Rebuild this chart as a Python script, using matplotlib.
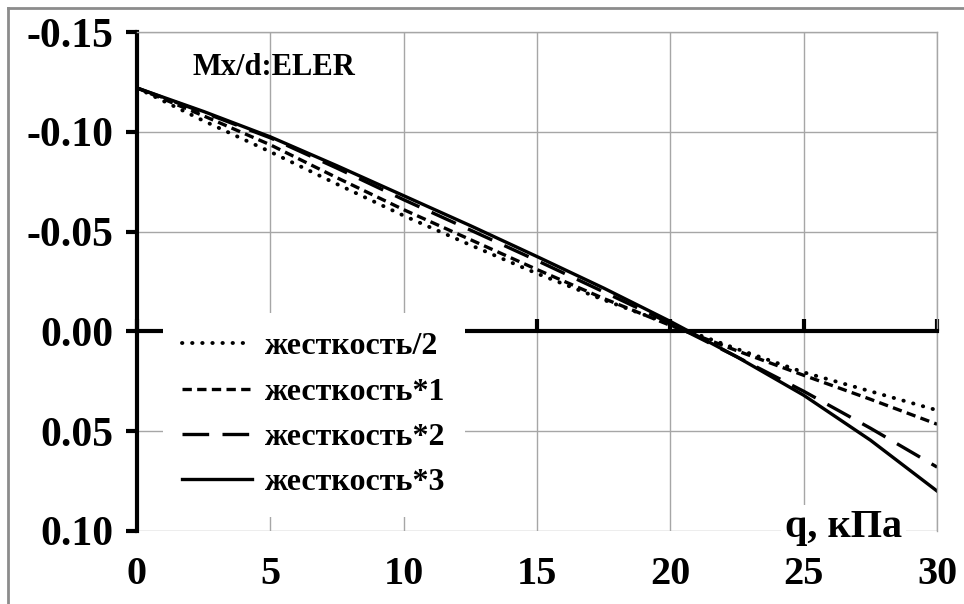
import numpy as np
import matplotlib
matplotlib.use("Agg")
import matplotlib.pyplot as plt
from matplotlib.lines import Line2D

# =============================================================================
# data
# =============================================================================
q = [0, 2.5, 5, 7.5, 10, 12.5, 15, 17.5, 20, 22.5, 25, 27.5, 30]
m_half = [-0.122, -0.1055, -0.090, -0.0738, -0.058, -0.0433, -0.029, -0.0158,
          -0.0035, 0.0088, 0.0205, 0.030, 0.0395]
m_x1 = [-0.122, -0.108, -0.0935, -0.077, -0.061, -0.046, -0.031, -0.0165,
        -0.003, 0.0097, 0.022, 0.034, 0.0465]
m_x2 = [-0.122, -0.1097, -0.097, -0.0818, -0.066, -0.0508, -0.0355, -0.0198,
        -0.004, 0.0128, 0.030, 0.0485, 0.068]
m_x3 = [-0.122, -0.1102, -0.0975, -0.083, -0.068, -0.053, -0.0375, -0.0217,
        -0.005, 0.0128, 0.032, 0.0545, 0.080]
labels = ["жесткость/2", "жесткость*1", "жесткость*2", "жесткость*3"]
xticks = [0, 5, 10, 15, 20, 25, 30]
yticks = [-0.15, -0.10, -0.05, 0.00, 0.05, 0.10]

plt.rcParams['font.family'] = ['Liberation Serif', 'DejaVu Serif']
plt.rcParams['font.weight'] = 'bold'

fig = plt.figure(figsize=(9.64, 6.04), dpi=100)
ax = fig.add_axes([0.1421, 0.1209, 0.830, 0.826])

# border of the picture (top and left only)
fig.add_artist(Line2D([0.008, 1.0], [0.987, 0.987], transform=fig.transFigure,
                      color='#8c8c8c', lw=2))
fig.add_artist(Line2D([0.008, 0.008], [0.0, 0.987], transform=fig.transFigure,
                      color='#8c8c8c', lw=2))

lw = 2.4
ax.plot(q, m_half, color='k', lw=2.8, linestyle=(0, (0.1, 2.5)),
        dash_capstyle='round', label=labels[0])
ax.plot(q, m_x1, color='k', lw=lw, linestyle=(0, (2.8, 1.6)), label=labels[1])
ax.plot(q, m_x2, color='k', lw=lw, linestyle=(0, (8, 4)), label=labels[2])
ax.plot(q, m_x3, color='k', lw=lw, linestyle='-', label=labels[3])

ax.set_xlim(0, 30)
ax.set_ylim(0.10, -0.15)
ax.set_xticks(xticks)
ax.set_yticks(yticks)
ax.set_yticklabels(['%.2f' % v for v in yticks])
ax.grid(True, color='#a6a6a6', lw=1.0)

for s in ['top', 'right']:
    ax.spines[s].set_color('#a6a6a6')
    ax.spines[s].set_linewidth(1.0)
ax.spines['left'].set_linewidth(3)
ax.spines['bottom'].set_linewidth(3)
ax.spines['bottom'].set_position(('data', 0))
ax.spines['bottom'].set_zorder(3)

ax.tick_params(axis='x', direction='in', length=9, width=3, labelbottom=False)
ax.tick_params(axis='y', direction='out', length=8, width=3, pad=9,
               labelsize=30)

sec = ax.secondary_xaxis('bottom')
sec.set_xticks(xticks)
sec.tick_params(length=0, pad=18, labelsize=29)
sec.spines['bottom'].set_visible(False)

ax.text(0.07, 0.928, 'Mx/d:ELER', transform=ax.transAxes, fontsize=22,
        fontweight='bold', va='center', ha='left')
ax.text(0.8825, 0.006, 'q, кПа', transform=ax.transAxes, fontsize=29,
        fontweight='bold', va='center', ha='center',
        bbox=dict(facecolor='white', edgecolor='none', pad=3))

leg = ax.legend(loc='upper left', bbox_to_anchor=(0.0325, 0.437),
                borderaxespad=0, frameon=True, fancybox=False,
                facecolor='white', edgecolor='none', framealpha=1,
                prop={'size': 23, 'weight': 'bold'},
                handlelength=2.2, handletextpad=0.4, labelspacing=0.5,
                borderpad=0.6)
leg.set_zorder(5)

fig.savefig('out.png', dpi=100)
